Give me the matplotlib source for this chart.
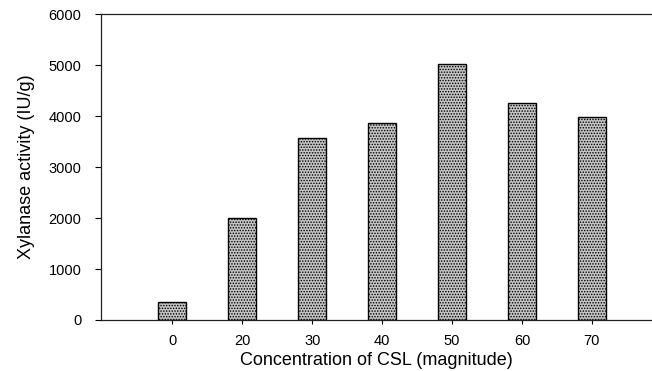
import matplotlib
matplotlib.use("Agg")
import matplotlib.pyplot as plt
import numpy as np

# Xylanase activity vs CSL concentration
csl_labels = ["0", "20", "30", "40", "50", "60", "70"]
xylanase_activity = [350, 2000, 3570, 3870, 5020, 4250, 3980]
y_ticks = [0, 1000, 2000, 3000, 4000, 5000, 6000]

plt.rcParams["font.family"] = ["Liberation Sans", "DejaVu Sans"]
plt.rcParams["hatch.color"] = "#3a3a3a"
plt.rcParams["hatch.linewidth"] = 0.7

fig = plt.figure(figsize=(6.52, 3.71), dpi=100)
ax = fig.add_axes([0.155, 0.1375, 0.845, 0.8245])

x = np.arange(len(csl_labels))
ax.bar(x, xylanase_activity, width=0.4, facecolor="#c4c4c4",
       edgecolor="black", linewidth=1.0, hatch="......", zorder=2)

ax.set_xlim(-1.02, 6.86)
ax.set_ylim(0, 6000)
ax.set_yticks(y_ticks)
ax.set_xticks(x)
ax.set_xticklabels(csl_labels)

ax.spines["right"].set_visible(False)
for s in ["left", "top", "bottom"]:
    ax.spines[s].set_linewidth(0.9)
    ax.spines[s].set_color("#222222")

ax.tick_params(axis="y", direction="out", length=4, width=0.8,
               labelsize=10.5, pad=10)
ax.tick_params(axis="x", direction="out", length=3, width=0.8,
               labelsize=10.5, pad=7)

ax.set_xlabel("Concentration of CSL (magnitude)", fontsize=13, labelpad=3)
ax.set_ylabel("Xylanase activity (IU/g)", fontsize=13, labelpad=10)

fig.savefig("out.png", dpi=100)
